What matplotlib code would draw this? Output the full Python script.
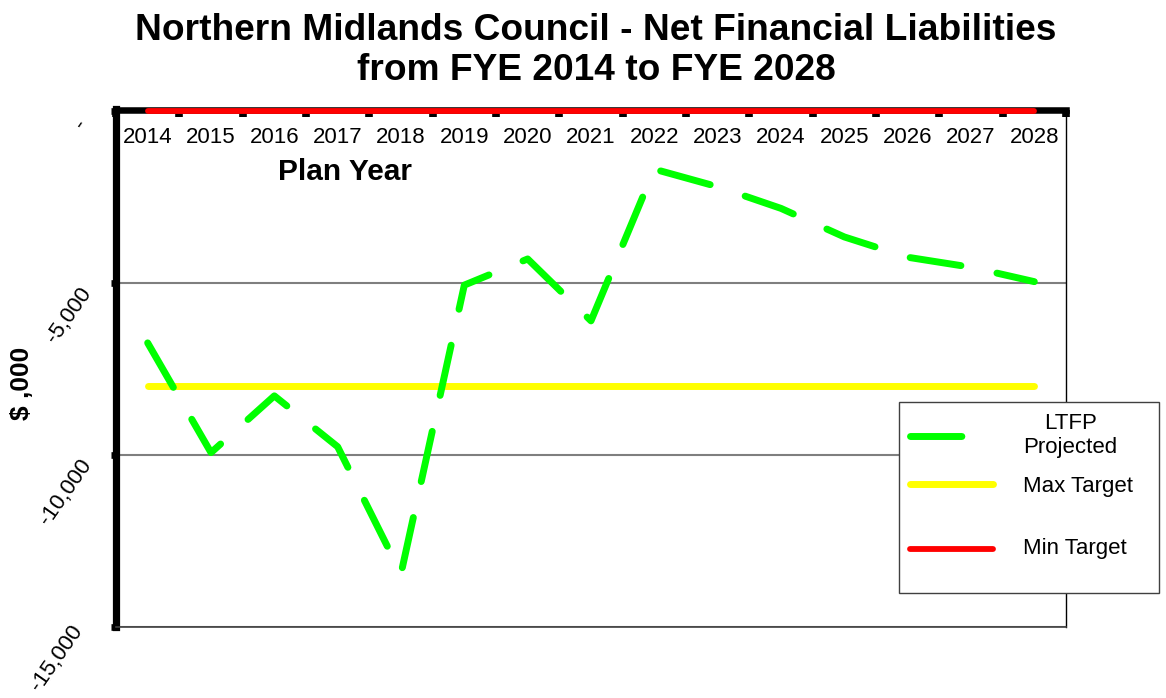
"""
Northern Midlands Council - net financial liabilities, FYE 2014 to FYE 2028.
Writes out.png.
"""

import matplotlib

matplotlib.use("Agg")
import matplotlib.pyplot as plt
import numpy as np

plt.rcParams["font.family"] = ["Liberation Sans", "DejaVu Sans"]

# ── Data ($ ,000) ─────────────────────────────────────────────────────────────
YEARS = [str(y) for y in range(2014, 2029)]
LTFP_PROJECTED = [-6740, -9930, -8280, -9760, -13450, -5060, -4300, -6100,
                  -1690, -2200, -2830, -3660, -4250, -4540, -4960]
MAX_TARGET = [-8000] * len(YEARS)
MIN_TARGET = [0] * len(YEARS)
Y_TICKS = [0, -5000, -10000, -15000]
Y_TICK_LABELS = ["- ", "-5,000", "-10,000", "-15,000"]

W, H = 1166, 698
Y_TOP = 45  # a hair above zero so the top axis line peeks out over the red line


def main() -> None:
    fig = plt.figure(figsize=(W / 100, H / 100), dpi=100)
    ax = fig.add_axes([116 / W, 1 - 627 / H, 950 / W, (627 - 109.5) / H])

    x = np.arange(len(YEARS))
    ax.plot(x, MIN_TARGET, color="#ff0000", lw=4.2, solid_capstyle="round",
            label="\nMin Target\n", zorder=3, clip_on=False)
    ax.plot(x, MAX_TARGET, color="#ffff00", lw=5, solid_capstyle="round",
            label="Max Target", zorder=3)
    ax.plot(x, LTFP_PROJECTED, color="#00ff00", lw=5, dashes=(7.4, 5.3),
            dash_capstyle="round", label="LTFP\nProjected", zorder=4)

    ax.set_xlim(-0.5, len(YEARS) - 0.5)
    ax.set_ylim(-15000, Y_TOP)

    # category axis on top, labels inside the plot area
    ax.xaxis.tick_top()
    ax.set_xticks(x)
    ax.set_xticklabels(YEARS, fontsize=16)
    ax.set_xticks(np.arange(-0.5, len(YEARS)), minor=True)
    ax.tick_params(axis="x", which="major", length=0, pad=-28,
                   top=True, bottom=False, labeltop=True, labelbottom=False)
    ax.tick_params(axis="x", which="minor", direction="in", length=5.3,
                   width=5.5, color="black", top=True, bottom=False)

    ax.set_yticks(Y_TICKS)
    ax.set_yticklabels(Y_TICK_LABELS, fontsize=16)
    ax.tick_params(axis="y", which="major", length=3.6, width=4.8,
                   color="black", pad=23.3)
    ylabels = ax.get_yticklabels()
    for lab in ylabels:
        lab.set_rotation(55)
        lab.set_rotation_mode("anchor")
        lab.set_ha("right")
        lab.set_va("top")
    ylabels[-1].set_va("center")  # keep the bottom label inside the canvas

    ax.yaxis.grid(True, color="#7f7f7f", lw=1.5)
    ax.set_axisbelow(True)

    ax.spines["left"].set_linewidth(5.2)
    ax.spines["left"].set_color("black")
    ax.spines["top"].set_linewidth(4.7)
    ax.spines["top"].set_color("black")
    ax.spines["right"].set_linewidth(1)
    ax.spines["right"].set_color("black")
    ax.spines["bottom"].set_linewidth(1.2)
    ax.spines["bottom"].set_color("#404040")

    ax.text((345 - 116) / 950, 1 - (172 - 109.5) / 517.5, "Plan Year",
            transform=ax.transAxes, ha="center", va="center",
            fontsize=21.5, fontweight="bold")

    fig.text(596 / W, 1 - 39.5 / H,
             "Northern Midlands Council - Net Financial Liabilities",
             ha="center", va="baseline", fontsize=26.7, fontweight="bold")
    fig.text(596 / W, 1 - 79.5 / H, "from FYE 2014 to FYE 2028",
             ha="center", va="baseline", fontsize=26.7, fontweight="bold")
    fig.text(22 / W, 1 - 383 / H, "$ ,000", rotation=90, ha="center",
             va="center", fontsize=19, fontweight="bold")

    handles, labels = ax.get_legend_handles_labels()
    order = [2, 1, 0]
    leg = ax.legend([handles[i] for i in order], [labels[i] for i in order],
                    loc="upper left",
                    bbox_to_anchor=(899 / W, 1 - 594 / H, 260 / W, 192 / H),
                    bbox_transform=fig.transFigure, mode="expand",
                    fontsize=16, frameon=True, fancybox=False, shadow=False,
                    edgecolor="#404040", framealpha=1, borderpad=0.5,
                    handlelength=3.75, handletextpad=1.35, labelspacing=0.8,
                    borderaxespad=0)
    leg.get_frame().set_linewidth(1)
    texts = leg.get_texts()
    texts[0].set_multialignment("center")
    texts[2].set_linespacing(1.12)
    leg.set_zorder(10)

    fig.savefig("out.png", dpi=100)
    plt.close(fig)


if __name__ == "__main__":
    main()
